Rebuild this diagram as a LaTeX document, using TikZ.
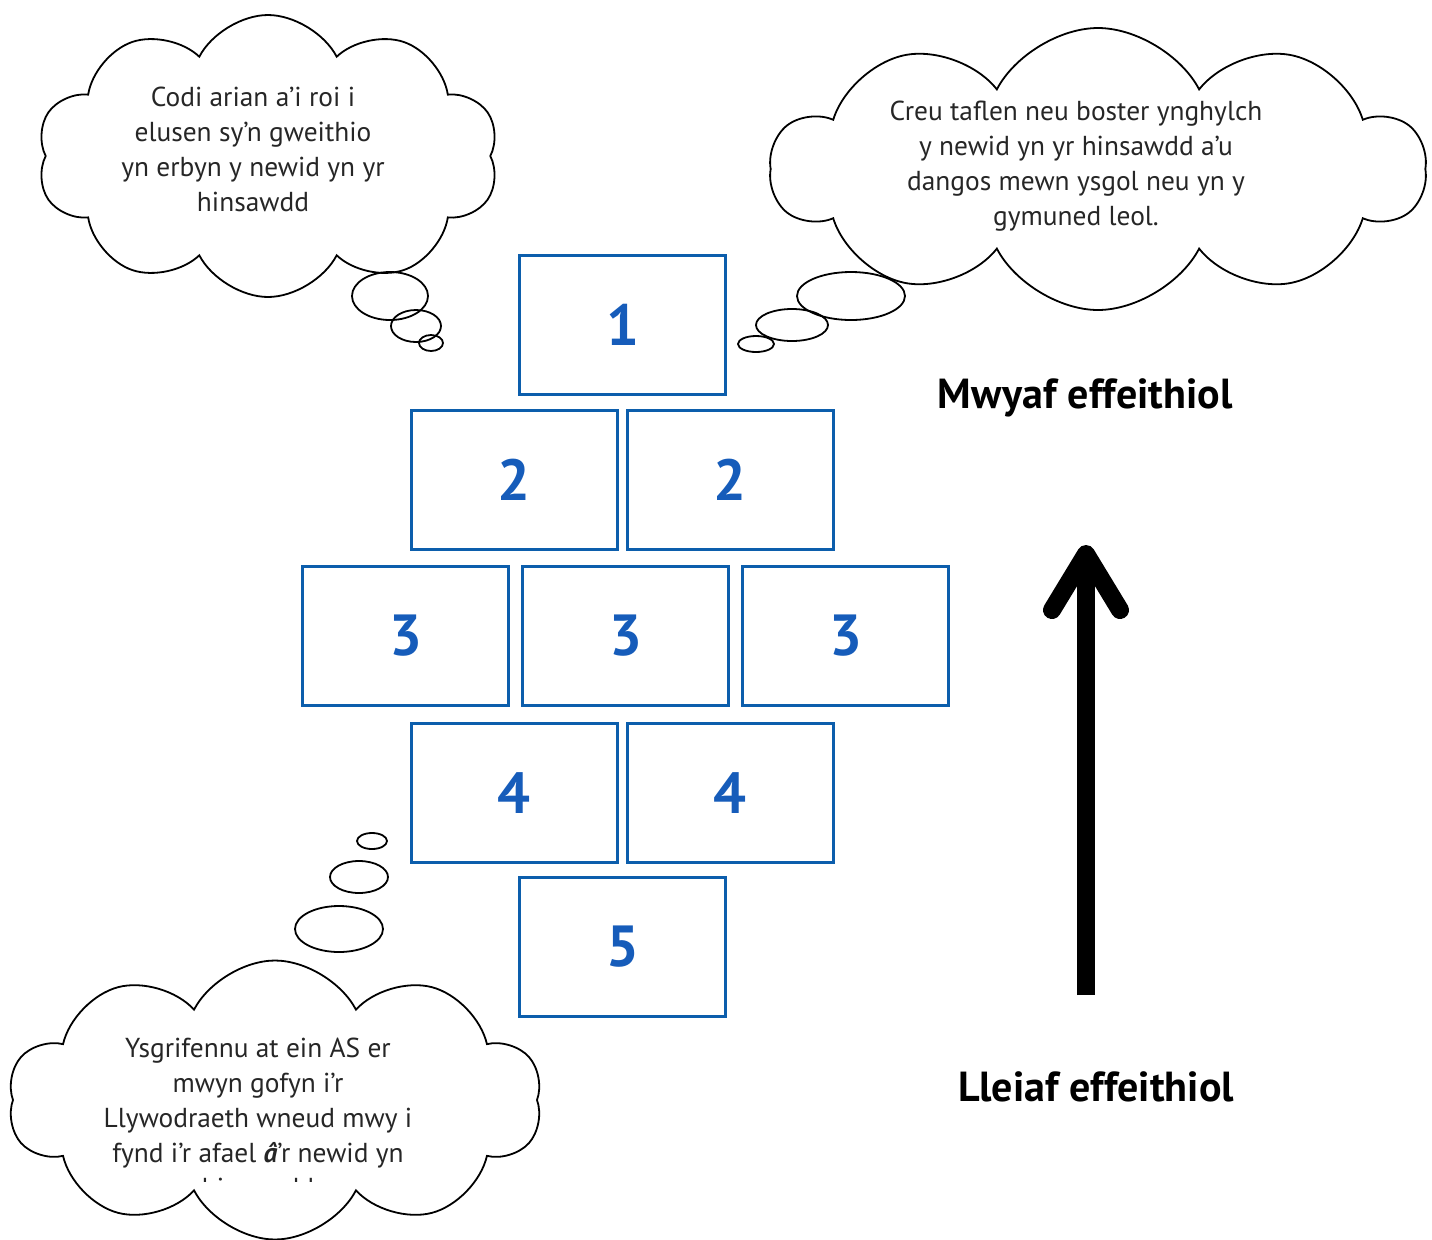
\documentclass[tikz,border=0pt]{standalone}
\usepackage{fontspec}
\setmainfont{PT Sans}
\usetikzlibrary{shapes.symbols,shapes.geometric,arrows.meta,positioning}
\definecolor{boxblue}{RGB}{12,94,172}
\definecolor{numblue}{RGB}{22,92,186}
\tikzset{cell/.style={draw=boxblue, line width=1.5pt, minimum width=103pt, minimum height=69.5pt, inner sep=0pt, text=numblue, font=\fontsize{29}{29}\selectfont\bfseries}}
\tikzstyle{thought}=[draw, cloud, cloud puffs=10, cloud puff arc=125, cloud ignores aspect, line width=0.9pt, inner sep=0pt]
\tikzstyle{bubble}=[draw, ellipse, line width=0.9pt, inner sep=0pt]
\tikzstyle{say}=[align=center, text=black!85, font=\fontsize{13.7}{17.5}\selectfont]
\tikzstyle{rank}=[font=\fontsize{21}{21}\selectfont\bfseries]

\begin{document}
\begin{tikzpicture}[x=0.5pt, y=-0.5pt, node distance=108pt]
\useasboundingbox (0,0) rectangle (1432,1239);
% the hopscotch
\node[cell] (one) at (622.5,325) {1};
\node[cell] (twoA) at (514,480) {2};
\node[cell][right of =twoA] (twoB) {2};
\node[cell] (threeA) at (405.5,636) {3};
\node[cell, node distance=110pt][right of =threeA] (threeB) {3};
\node[cell, node distance=110pt][right of =threeB] (threeC) {3};
\node[cell] (fourA) at (514,793) {4};
\node[cell][right of =fourA] (fourB) {4};
\node[cell] (five) at (622.5,946.5) {5};

% thoughts
\node[thought, minimum width=231pt, minimum height=141pt] (cloudTL) at (268,156) {};
\node[say] (sayTL) at (253,149) {Codi arian a’i roi i\\elusen sy’n gweithio\\yn erbyn y newid yn yr\\hinsawdd};
\node[bubble, minimum width=38pt, minimum height=24pt] (tlA) at (390,296) {};
\node[bubble, minimum width=25pt, minimum height=16pt] (tlB) at (416,326) {};
\node[bubble, minimum width=12pt, minimum height=8pt] (tlC) at (431,343) {};

\node[thought, minimum width=327pt, minimum height=141pt] (cloudTR) at (1098,169) {};
\node[say] (sayTR) at (1076,166) {Creu taflen neu boster ynghylch\\y newid yn yr hinsawdd a’u\\dangos mewn ysgol neu yn y\\gymuned leol.};
\node[bubble, minimum width=54pt, minimum height=24pt] (trA) at (851,296) {};
\node[bubble, minimum width=36pt, minimum height=16pt] (trB) at (792,325) {};
\node[bubble, minimum width=18pt, minimum height=8pt] (trC) at (756,344) {};

\node[thought, minimum width=267pt, minimum height=139.5pt] (cloudBL) at (275,1100) {};
\begin{scope}
\clip (0,960) rectangle (560,1181);
\node[say] (sayBL) at (258,1117.5) {Ysgrifennu at ein AS er\\mwyn gofyn i’r\\Llywodraeth wneud mwy i\\fynd i’r afael {\bfseries\itshape â}’r newid yn\\hinsawdd};
\end{scope}
\node[bubble, minimum width=44pt, minimum height=23pt] (blA) at (339,929) {};
\node[bubble, minimum width=29pt, minimum height=16pt] (blB) at (359,877) {};
\node[bubble, minimum width=15pt, minimum height=8pt] (blC) at (372,841) {};

% scale
\node[rank] (most) at (1085,398) {Mwyaf effeithiol};
\node[rank] (least) at (1096,1087) {Lleiaf effeithiol};
\coordinate (low) at (1086,995);
\coordinate (high) at (1086,545);
\draw[line width=9pt, -{Straight Barb[length=28pt, width=34pt, round]}] (low) -- (high);
\end{tikzpicture}
\end{document}
